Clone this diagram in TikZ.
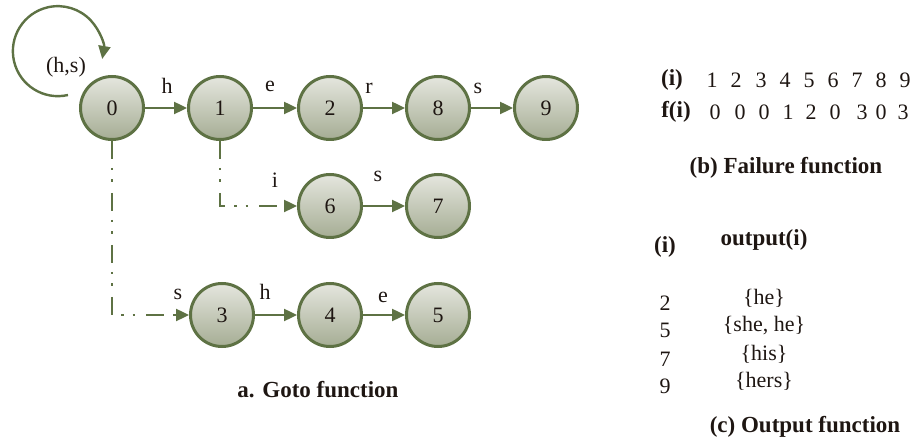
\documentclass[tikz,border=0pt]{standalone}
\usepackage{fontspec}
\setmainfont{Liberation Serif}
\usetikzlibrary{arrows.meta}
\definecolor{olive}{RGB}{94,114,68}
\definecolor{stTop}{RGB}{228,230,222}
\definecolor{stBot}{RGB}{166,173,148}
\definecolor{ink}{RGB}{30,22,18}
\begin{document}
\begin{tikzpicture}[x=1pt,y=-1pt,
  font=\fontsize{22}{26}\selectfont,
  state/.style={circle, draw=olive, line width=3pt, minimum size=63pt, inner sep=0pt,
    top color=stTop, bottom color=stBot, text=ink},
  lbl/.style={inner sep=0pt, text=ink},
  hdr/.style={inner sep=0pt, text=ink, font=\fontsize{23}{27}\selectfont\bfseries},
  edge/.style={draw=olive, line width=2.4pt, -{Triangle[length=13pt,width=12pt]}},
  failure/.style={edge, dash pattern={on 18pt off 9pt on 2.5pt off 9pt on 2.5pt off 11pt}}
]
\useasboundingbox (0,0) rectangle (916,443);

% goto graph states
\node[state] (n0) at (112,108) {0};
\node[state] (n1) at (220,108) {1};
\node[state] (n2) at (330,108) {2};
\node[state] (n8) at (438,108) {8};
\node[state] (n9) at (546,108) {9};
\node[state] (n6) at (330,206) {6};
\node[state] (n7) at (438,206) {7};
\node[state] (n3) at (222,315) {3};
\node[state] (n4) at (330,315) {4};
\node[state] (n5) at (438,315) {5};

% self loop on state 0
\coordinate (loopstart) at (68,95);
\draw[edge] (loopstart) arc[start angle=77, end angle=370, radius=45];
\node[lbl] (lhs) at (66,67) {(h,s)};

% goto transitions
\draw[edge] (n0) -- (n1);
\draw[edge] (n1) -- (n2);
\draw[edge] (n2) -- (n8);
\draw[edge] (n8) -- (n9);
\draw[edge] (n6) -- (n7);
\draw[edge] (n3) -- (n4);
\draw[edge] (n4) -- (n5);
\draw[failure] (n1.south) |- (n6.west);
\draw[failure] (n0.south) |- (n3.west);

% transition labels
\node[lbl] (l01) at (167,86) {h};
\node[lbl] (l12) at (270,86) {e};
\node[lbl] (l28) at (369,88) {r};
\node[lbl] (l89) at (478,88) {s};
\node[lbl] (l16) at (275,180) {i};
\node[lbl] (l67) at (378,176) {s};
\node[lbl] (l03) at (178,294) {s};
\node[lbl] (l34) at (265,292) {h};
\node[lbl] (l45) at (383,297) {e};

\node[hdr] (capa) at (318,390) {a. Goto function};

% failure function table
\node[hdr] (fi) at (672,80) {(i)};
\node[hdr] (ff) at (676,112) {f(i)};
\foreach \v/\x [count=\k] in {1/712,2/736,3/761,4/785,5/809,6/833,7/857,8/881,9/905}
  \node[lbl] (fa\k) at (\x,80) {\v};
\foreach \v/\x [count=\k] in {0/715,0/740,0/764,1/788,2/811,0/835,3/862,0/881,3/903}
  \node[lbl] (fb\k) at (\x,112) {\v};
\node[hdr] (capb) at (786,168) {(b) Failure function};

% output function table
\node[hdr] (oi) at (665,247) {(i)};
\node[hdr] (oo) at (764,240) {output(i)};
\node[lbl] (oa) at (665,303) {2};
\node[lbl] (ob) at (665,330) {5};
\node[lbl] (oc) at (665,359) {7};
\node[lbl] (od) at (665,386) {9};
\node[lbl] (va) at (764,298) {\{he\}};
\node[lbl] (vb) at (764,326) {\{she, he\}};
\node[lbl] (vc) at (764,354) {\{his\}};
\node[lbl] (vd) at (764,381) {\{hers\}};
\node[hdr] (capc) at (805,427) {(c) Output function};
\end{tikzpicture}
\end{document}
